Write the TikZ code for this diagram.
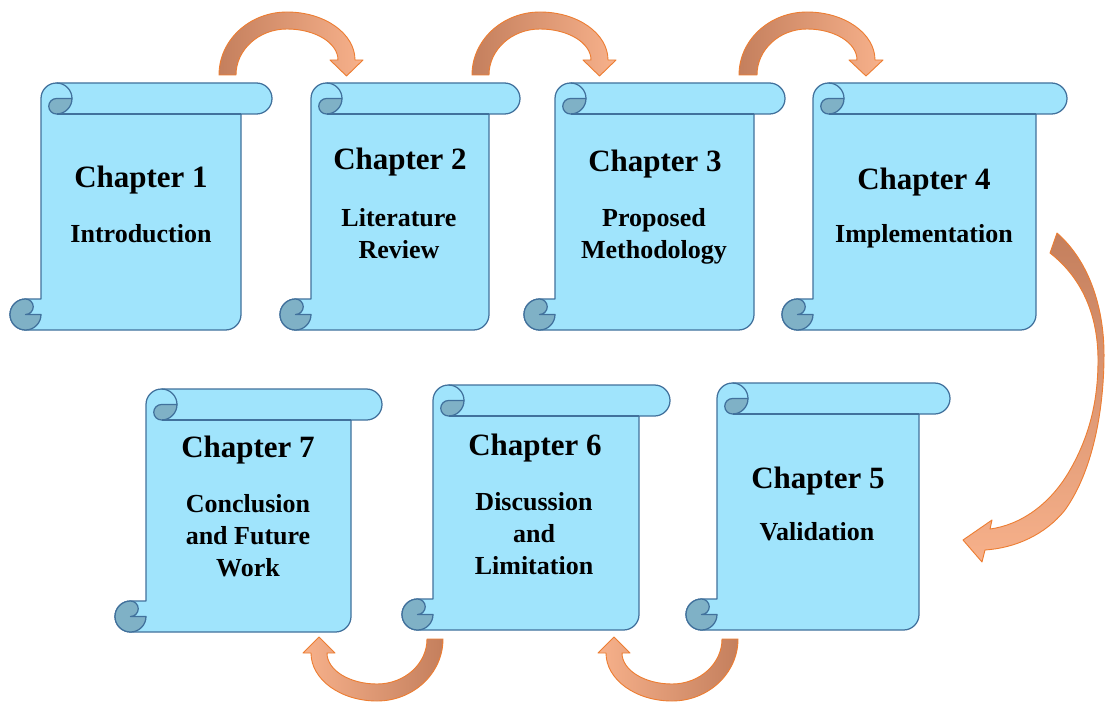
\documentclass[tikz,border=0pt]{standalone}
\usepackage{fontspec}
\setmainfont{Liberation Serif}
\definecolor{scrollfill}{HTML}{A0E4FC}
\definecolor{scrolldark}{HTML}{7FB1C6}
\definecolor{scrollline}{HTML}{41719C}
\definecolor{arrowline}{HTML}{ED7D31}
\definecolor{arrowdark}{HTML}{C47F5D}
\definecolor{arrowlight}{HTML}{F7B18B}

\tikzset{
  scrollbody/.style={fill=scrollfill},
  scrollcurl/.style={fill=scrolldark},
  scrolledge/.style={draw=scrollline, line width=1.25pt, line join=round},
  bentbody/.style={draw=arrowline, line width=0.9pt, line join=round},
  topshade/.style={left color=arrowdark, right color=arrowlight},
  botshade/.style={left color=arrowlight, right color=arrowdark},
  bigshade/.style={top color=arrowdark, bottom color=arrowlight},
  chaptitle/.style={font=\bfseries\fontsize{31}{34}\selectfont, anchor=base, inner sep=0pt},
  chapsub/.style={font=\bfseries\fontsize{26}{30}\selectfont, anchor=base, inner sep=0pt},
}

% roll size of the scroll
\def\ch{31}\def\hh{15.5}\def\hq{7.75}
% vertical scroll: #1 left, #2 top, #3 right, #4 bottom
\newcommand\scrollshape[4]{%
  \pgfmathsetmacro\xa{#1+\ch}%
  \pgfmathsetmacro\xb{#1+\hh}%
  \pgfmathsetmacro\xc{#1+\ch+\hh}%
  \pgfmathsetmacro\xd{#1+2*\ch}%
  \pgfmathsetmacro\xf{#3-\ch}%
  \pgfmathsetmacro\xg{#3-\hh}%
  \pgfmathsetmacro\ya{#2+\hh}%
  \pgfmathsetmacro\yb{#2+\ch}%
  \pgfmathsetmacro\yc{#4-\ch}%
  \pgfmathsetmacro\yd{#4-\hh}%
  \path[scrollbody, scrolledge] (\xa,\yc) -- (\xa,\ya)
    arc[start angle=180, end angle=270, radius=\hh]
    -- (\xg,#2) arc[start angle=270, end angle=450, radius=\hh]
    -- (\xf,\yb) -- (\xf,\yd) arc[start angle=0, end angle=90, radius=\hh]
    -- (\xb,#4) arc[start angle=90, end angle=270, radius=\hh] -- cycle;
  % upper curl
  \path[scrollcurl, scrolledge] (\xd,\ya)
    arc[start angle=0, end angle=90, radius=\hh]
    arc[start angle=90, end angle=270, radius=\hq] -- cycle;
  \draw[scrolledge] (\xc,#2) arc[start angle=270, end angle=360, radius=\hh];
  \draw[scrolledge] (\xf,\yb) -- (\xc,\yb);
  % lower curl
  \path[scrollcurl, scrolledge] (\xa,\yd)
    arc[start angle=0, end angle=270, radius=\hh]
    arc[start angle=270, end angle=450, radius=\hq] -- cycle;
}

% arrow heads
\def\hlen{16}\def\hext{8}
% hump arrow over the top row: centre x #1, outer half width #2, inner half width #3
\newcommand\toparrow[3]{%
  \pgfmathsetmacro\tipx{#1+(#2+#3)/2}%
  \pgfmathsetmacro\wox{#1+#2+\hext}%
  \pgfmathsetmacro\wix{#1+#3-\hext}%
  \path[bentbody, topshade] (#1-#2,75)
    arc[start angle=180, end angle=270, x radius=#2, y radius=63]
    arc[start angle=270, end angle=360, x radius=#2, y radius=48]
    -- (\wox,60) -- (\tipx,76) -- (\wix,60) -- (#1+#3,60)
    arc[start angle=0, end angle=-90, x radius=#3, y radius=31]
    arc[start angle=270, end angle=180, x radius=#3, y radius=46] -- cycle;
}
% hump arrow under the bottom row, running right to left
\newcommand\botarrow[3]{%
  \pgfmathsetmacro\tipx{#1-(#2+#3)/2}%
  \pgfmathsetmacro\wox{#1-#2-\hext}%
  \pgfmathsetmacro\wix{#1-#3+\hext}%
  \path[bentbody, botshade] (#1+#2,639)
    arc[start angle=0, end angle=90, x radius=#2, y radius=62]
    arc[start angle=90, end angle=180, x radius=#2, y radius=48]
    -- (\wox,653) -- (\tipx,637) -- (\wix,653) -- (#1-#3,653)
    arc[start angle=180, end angle=90, x radius=#3, y radius=31]
    arc[start angle=90, end angle=0, x radius=#3, y radius=45] -- cycle;
}

\begin{document}
\begin{tikzpicture}[x=1pt, y=-1pt]
  \fill[white] (0,0) rectangle (1105,706);
  \useasboundingbox (0,0) rectangle (1105,706);

  % arrows along the top row
  \toparrow{287}{68}{51}
  \toparrow{540}{68}{51}
  \toparrow{807}{68}{50}

  % top row of scrolls
  \scrollshape{10}{83}{272}{330}
  \scrollshape{280}{83}{520}{330}
  \scrollshape{524}{83}{785}{330}
  \scrollshape{782}{83}{1067}{330}

  % bottom row of scrolls
  \scrollshape{115}{389}{382}{632}
  \scrollshape{402}{385}{670}{630}
  \scrollshape{686}{383}{950}{630}

  % arrows along the bottom row
  \botarrow{672}{66}{50}
  \botarrow{377}{66}{50}

  % long arrow from the top row down to the bottom row
  \path[bentbody, bigshade] (1057,233)
    .. controls (1090,262) and (1105,310) .. (1104,360)
    .. controls (1103,420) and (1090,475) .. (1065,510)
    .. controls (1045,535) and (1015,548) .. (985,550)
    -- (982,562) -- (963,540) -- (992,520) -- (990,529)
    .. controls (1020,525) and (1050,505) .. (1070,470)
    .. controls (1090,435) and (1098,400) .. (1098,360)
    .. controls (1098,315) and (1082,278) .. (1050,253) -- cycle;

  % chapter texts
  \node[chaptitle] (c1) at (141,187) {Chapter 1};
  \node[chapsub] (c1a) at (141,242) {Introduction};

  \node[chaptitle] (c2) at (400,169) {Chapter 2};
  \node[chapsub] (c2a) at (399,226) {Literature};
  \node[chapsub] (c2b) at (399,258) {Review};

  \node[chaptitle] (c3) at (655,171) {Chapter 3};
  \node[chapsub] (c3a) at (654,226) {Proposed};
  \node[chapsub] (c3b) at (654,258) {Methodology};

  \node[chaptitle] (c4) at (924,189) {Chapter 4};
  \node[chapsub] (c4a) at (924,242) {Implementation};

  \node[chaptitle] (c7) at (248,457) {Chapter 7};
  \node[chapsub] (c7a) at (248,512) {Conclusion};
  \node[chapsub] (c7b) at (248,544) {and Future};
  \node[chapsub] (c7c) at (248,576) {Work};

  \node[chaptitle] (c6) at (535,455) {Chapter 6};
  \node[chapsub] (c6a) at (534,510) {Discussion};
  \node[chapsub] (c6b) at (534,542) {and};
  \node[chapsub] (c6c) at (534,574) {Limitation};

  \node[chaptitle] (c5) at (818,488) {Chapter 5};
  \node[chapsub] (c5a) at (817,540) {Validation};
\end{tikzpicture}
\end{document}
